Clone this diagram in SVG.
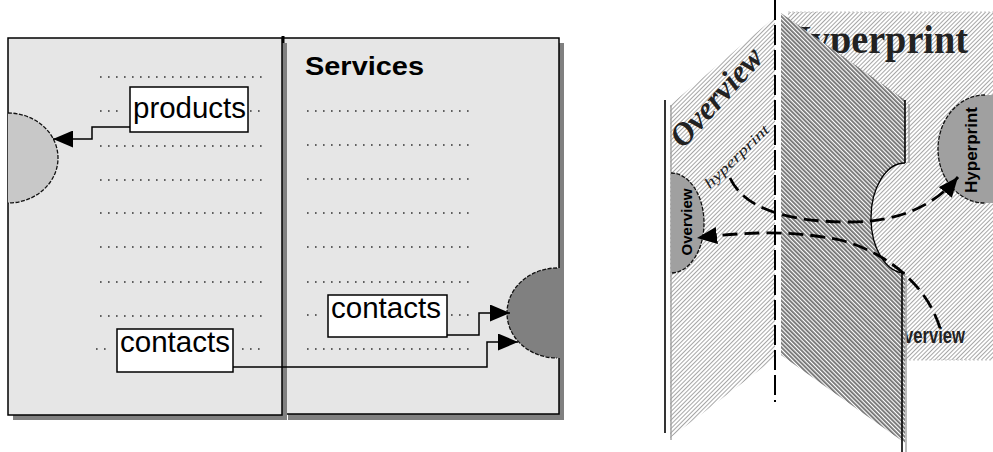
<svg xmlns="http://www.w3.org/2000/svg" width="993" height="452" viewBox="0 0 993 452">
<defs>
<style>
.page{fill:#e6e6e6;stroke:#000;stroke-width:1.5}
.shadow{fill:#808080}
.dots{stroke:#333;stroke-width:1.6;stroke-dasharray:1.6 6.4;fill:none}
.box{fill:#fff;stroke:#000;stroke-width:1.5}
.lbl{font-family:"Liberation Sans",Arial,sans-serif;font-size:29.5px;fill:#000}
.conn{fill:none;stroke:#000;stroke-width:1.5}
.dconn{fill:none;stroke:#000;stroke-width:2.8;stroke-dasharray:15 7}
.edge{stroke:#000;stroke-width:1.6;fill:none}
.gedge{stroke:#a0a0a0;stroke-width:1.4;fill:none}
.serif{font-family:"Liberation Serif","Times New Roman",serif}
.sans{font-family:"Liberation Sans",Arial,sans-serif}
</style>
<pattern id="hatchL" width="3" height="3" patternUnits="userSpaceOnUse" patternTransform="rotate(45)"><rect width="3" height="3" fill="#fff"/><line x1="0.5" y1="0" x2="0.5" y2="3" stroke="#a6a6a6" stroke-width="1"/></pattern>
<pattern id="hatchD" width="3" height="3" patternUnits="userSpaceOnUse" patternTransform="rotate(-45)"><rect width="3" height="3" fill="#fff"/><line x1="0.9" y1="0" x2="0.9" y2="3" stroke="#707070" stroke-width="1.8"/></pattern>
<marker id="arrow" viewBox="0 0 20 17" refX="20" refY="8.5" markerUnits="userSpaceOnUse" markerWidth="20" markerHeight="17" orient="auto" preserveAspectRatio="none"><path d="M0,0 L20,8.5 L0,17 Z" fill="#000"/></marker>
</defs>
<rect width="993" height="452" fill="#fff"/>

<!-- Left figure -->
<g id="page-services">
<rect class="shadow" x="288" y="43" width="276" height="377"/>
<rect class="page" x="283" y="38" width="276" height="376"/>
<line x1="283" y1="36" x2="283" y2="45" stroke="#000" stroke-width="3"/>
<text x="305" y="75" class="sans" font-size="26" font-weight="bold" textLength="119" lengthAdjust="spacingAndGlyphs">Services</text>
<line class="dots" x1="307" y1="111" x2="470" y2="111"/>
<line class="dots" x1="307" y1="145" x2="470" y2="145"/>
<line class="dots" x1="307" y1="179" x2="470" y2="179"/>
<line class="dots" x1="307" y1="213" x2="470" y2="213"/>
<line class="dots" x1="307" y1="247" x2="470" y2="247"/>
<line class="dots" x1="307" y1="282" x2="470" y2="282"/>
<line class="dots" x1="307" y1="315" x2="320" y2="315"/>
<line class="dots" x1="451" y1="315" x2="472" y2="315"/>
<line class="dots" x1="307" y1="349" x2="470" y2="349"/>
</g>
<g id="target-circle-right">
<path d="M563,268 L557,268 A50,45 0 0 0 557,358 L563,358 Z" fill="#808080"/>
<path d="M557,268 A50,45 0 0 0 557,358" fill="none" stroke="#111" stroke-width="1.3" stroke-dasharray="4 1.5"/>
</g>
<g id="page-left">
<rect class="shadow" x="13" y="43" width="274" height="377"/>
<rect class="page" x="8" y="38" width="274" height="377"/>
<line class="dots" x1="100" y1="77" x2="262" y2="77"/>
<line class="dots" x1="100" y1="111" x2="124" y2="111"/>
<line class="dots" x1="250" y1="111" x2="262" y2="111"/>
<line class="dots" x1="100" y1="146" x2="262" y2="146"/>
<line class="dots" x1="100" y1="180" x2="262" y2="180"/>
<line class="dots" x1="100" y1="213" x2="262" y2="213"/>
<line class="dots" x1="100" y1="247" x2="262" y2="247"/>
<line class="dots" x1="100" y1="282" x2="262" y2="282"/>
<line class="dots" x1="100" y1="316" x2="262" y2="316"/>
<line class="dots" x1="96" y1="349" x2="108" y2="349"/>
<line class="dots" x1="242" y1="349" x2="262" y2="349"/>
</g>
<g id="target-circle-left">
<path d="M8,113 A50,45 0 0 1 8,203 Z" fill="#c8c8c8"/>
<path d="M8,113 A50,45 0 0 1 8,203" fill="none" stroke="#111" stroke-width="1.3" stroke-dasharray="4 1.5"/>
</g>
<g id="box-products">
<rect class="box" x="130" y="87" width="118" height="45"/>
<text class="lbl" x="133" y="118" textLength="113" lengthAdjust="spacingAndGlyphs">products</text>
</g>
<g id="box-contacts-left">
<rect class="box" x="117" y="329" width="116" height="43"/>
<text class="lbl" x="120" y="352" textLength="110" lengthAdjust="spacingAndGlyphs">contacts</text>
</g>
<g id="box-contacts-right">
<rect class="box" x="328" y="295" width="119" height="42"/>
<text class="lbl" x="331" y="318" textLength="110" lengthAdjust="spacingAndGlyphs">contacts</text>
</g>
<g id="connectors-left">
<path class="conn" d="M130,127 H92 V139 H53" marker-end="url(#arrow)"/>
<path class="conn" d="M447,335 H479 V313 H510" marker-end="url(#arrow)"/>
<path class="conn" d="M233,367 H487 V342 H518" marker-end="url(#arrow)"/>
</g>

<!-- Right figure -->
<g id="panel-hyperprint">
<rect x="788" y="12" width="205" height="348" fill="url(#hatchL)"/>
<line x1="788" y1="12" x2="993" y2="12" stroke="#c8c8c8" stroke-width="1" stroke-dasharray="2 2"/>
<line x1="905" y1="360" x2="993" y2="360" stroke="#c8c8c8" stroke-width="1" stroke-dasharray="2 2"/>
<text class="serif" x="781" y="53" font-size="40" font-weight="bold" fill="#222" textLength="187" lengthAdjust="spacingAndGlyphs">Hyperprint</text>
<text class="sans" x="965" y="343" font-size="22" font-weight="bold" fill="#222" text-anchor="end" textLength="74" lengthAdjust="spacingAndGlyphs">Overview</text>
<path d="M993,95 L985,95 A47,54 0 0 0 985,203 L993,203 Z" fill="#a0a0a0"/>
<path d="M985,95 A47,54 0 0 0 985,203" fill="none" stroke="#111" stroke-width="1.3" stroke-dasharray="4 1.5"/>
<text class="sans" transform="translate(977,150) rotate(-90)" x="0" y="0" font-size="16" font-weight="bold" text-anchor="middle" textLength="86" lengthAdjust="spacingAndGlyphs">Hyperprint</text>
</g>
<g id="panel-overview">
<polygon points="670,105 775,17 775,358 670,438" fill="url(#hatchL)"/>
<line class="edge" x1="665" y1="100" x2="665" y2="433"/>
<line class="gedge" x1="671" y1="105" x2="671" y2="440"/>
<text class="serif" transform="translate(724,104) rotate(-48)" x="0" y="0" font-size="32" font-weight="bold" font-style="italic" fill="#222" text-anchor="middle" textLength="122" lengthAdjust="spacingAndGlyphs">Overview</text>
<text class="serif" transform="translate(740,160) rotate(-44)" x="0" y="0" font-size="15" font-style="italic" fill="#222" text-anchor="middle" textLength="84" lengthAdjust="spacingAndGlyphs">hyperprint</text>
<path d="M671,173 A33,50 0 0 1 671,273 Z" fill="#a0a0a0"/>
<path d="M671,173 A33,50 0 0 1 671,273" fill="none" stroke="#111" stroke-width="1.3" stroke-dasharray="4 1.5"/>
<text class="sans" transform="translate(692,222) rotate(-90)" x="0" y="0" font-size="15" font-weight="bold" text-anchor="middle" textLength="67" lengthAdjust="spacingAndGlyphs">Overview</text>
</g>
<g id="panel-middle">
<path d="M781,13 L905,100 L905,163 A34,55 0 0 0 905,273 L905,443 L781,355 Z" fill="url(#hatchD)"/>
<line class="edge" x1="905" y1="100" x2="905" y2="163"/>
<line class="gedge" x1="909" y1="104" x2="909" y2="163"/>
<path d="M905,163 A34,55 0 0 0 905,273" fill="none" stroke="#000" stroke-width="1.3"/>
<line class="edge" x1="902" y1="273" x2="902" y2="452"/>
<line class="gedge" x1="906" y1="276" x2="906" y2="452"/>
</g>
<line x1="775" y1="0" x2="775" y2="402" stroke="#000" stroke-width="2" stroke-dasharray="20 5"/>
<g id="connectors-right">
<path class="dconn" d="M730,178 C745,210 790,222 850,222 C900,222 935,205 958,177" marker-end="url(#arrow)"/>
<path class="dconn" d="M940,328 C925,280 880,250 840,240 C800,232 760,230 697,238" marker-end="url(#arrow)"/>
</g>
</svg>
